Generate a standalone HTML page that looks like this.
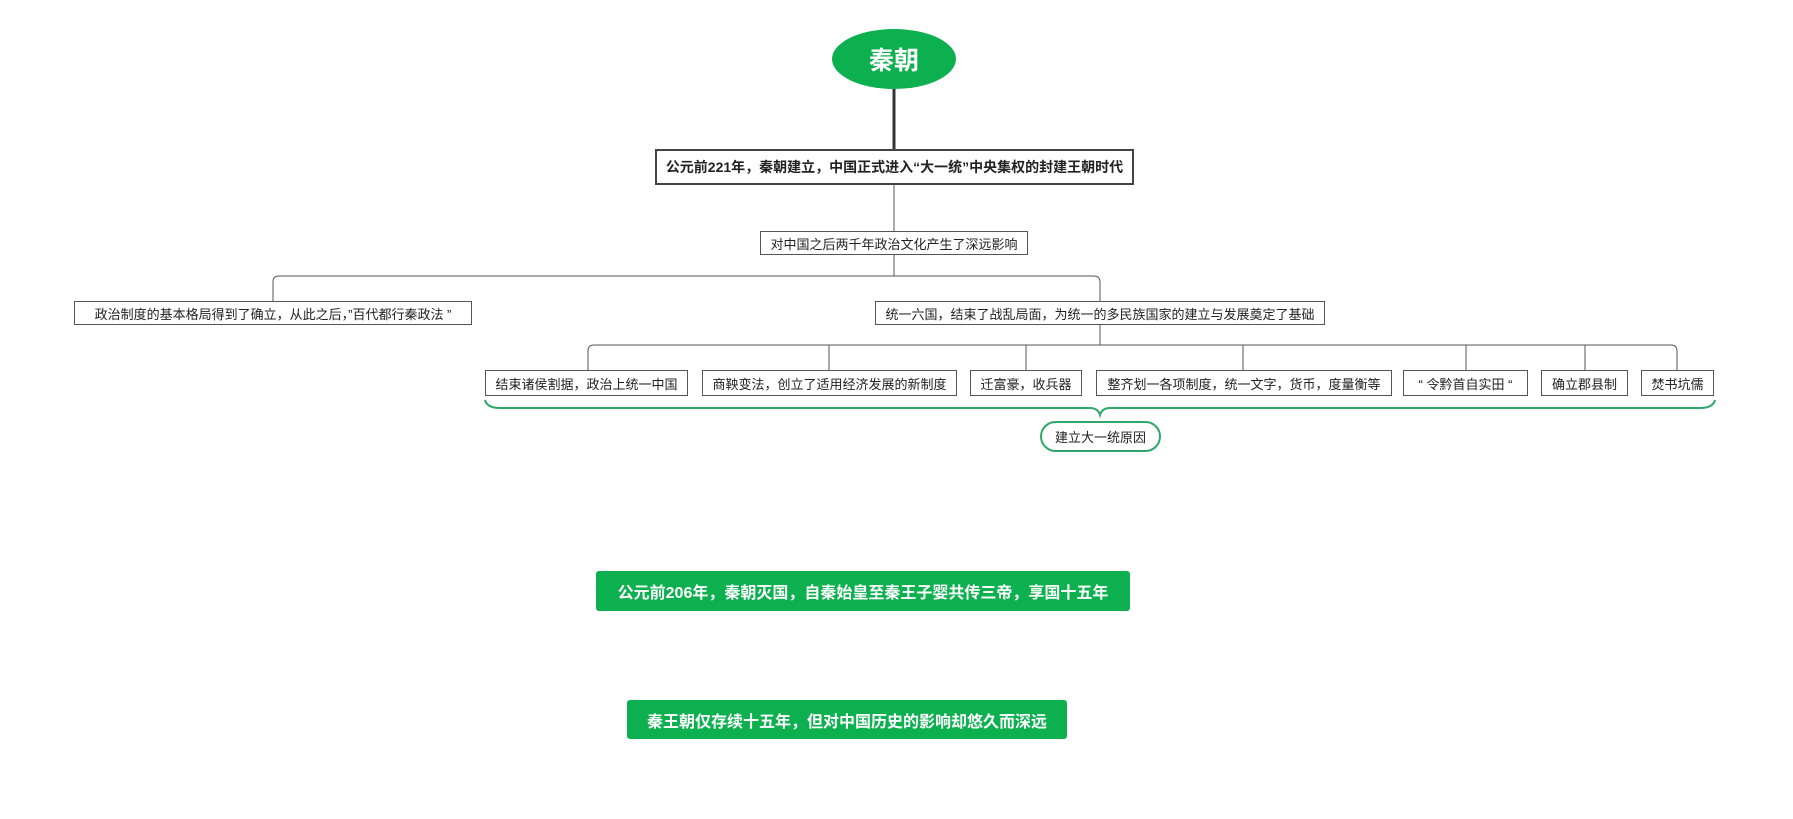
<!DOCTYPE html>
<html><head><meta charset="utf-8"><style>
html,body{margin:0;padding:0;background:#fff;}
body{width:1793px;height:819px;position:relative;overflow:hidden;font-family:"Liberation Sans","Noto Sans CJK SC",sans-serif;}
.b{position:absolute;box-sizing:border-box;border:1px solid #555;background:#fff;display:flex;align-items:center;justify-content:center;font-size:13px;color:#222;white-space:nowrap;}
.g{position:absolute;box-sizing:border-box;background:#0cb04f;color:#fff;font-weight:bold;font-size:16px;display:flex;align-items:center;justify-content:center;border-radius:3px;white-space:nowrap;}
svg{position:absolute;left:0;top:0;}
</style></head><body>
<svg width="1793" height="819">
<line x1="894" y1="89" x2="894" y2="149" stroke="#333" stroke-width="3"/>
<g fill="none" stroke="#555" stroke-width="1">
<line x1="894" y1="185" x2="894" y2="231"/>
<line x1="894" y1="255" x2="894" y2="276"/>
<path d="M273 301 V282 Q273 276 279 276 H1094 Q1100 276 1100 282 V301"/>
<line x1="1100" y1="325" x2="1100" y2="345"/>
<path d="M588 370 V351 Q588 345 594 345 H1671 Q1677 345 1677 351 V370"/>
<line x1="829" y1="345" x2="829" y2="370"/>
<line x1="1026" y1="345" x2="1026" y2="370"/>
<line x1="1243" y1="345" x2="1243" y2="370"/>
<line x1="1466" y1="345" x2="1466" y2="370"/>
<line x1="1585" y1="345" x2="1585" y2="370"/>
</g>
<path d="M485 400 Q487 408 500 408 H1090 Q1098 408 1100 415 Q1102 408 1110 408 H1700 Q1713 408 1715 400" fill="none" stroke="#2ea86a" stroke-width="2"/>
</svg>
<div style="position:absolute;left:832px;top:29px;width:124px;height:60px;border-radius:50%;background:#0cb04f;color:#fff;font-weight:bold;font-size:25px;display:flex;align-items:center;justify-content:center;">秦朝</div>
<div class="b" style="left:655px;top:149px;width:479px;height:36px;border:2px solid #444;font-weight:bold;font-size:14px;">公元前221年，秦朝建立，中国正式进入“大一统”中央集权的封建王朝时代</div>
<div class="b" style="left:760px;top:231px;width:268px;height:24px;">对中国之后两千年政治文化产生了深远影响</div>
<div class="b" style="left:74px;top:301px;width:398px;height:24px;">政治制度的基本格局得到了确立，从此之后，”百代都行秦政法 ”</div>
<div class="b" style="left:875px;top:301px;width:450px;height:24px;">统一六国，结束了战乱局面，为统一的多民族国家的建立与发展奠定了基础</div>
<div class="b" style="left:485px;top:370px;width:203px;height:26px;">结束诸侯割据，政治上统一中国</div>
<div class="b" style="left:702px;top:370px;width:255px;height:26px;">商鞅变法，创立了适用经济发展的新制度</div>
<div class="b" style="left:970px;top:370px;width:112px;height:26px;">迁富豪，收兵器</div>
<div class="b" style="left:1096px;top:370px;width:296px;height:26px;">整齐划一各项制度，统一文字，货币，度量衡等</div>
<div class="b" style="left:1403px;top:370px;width:125px;height:26px;">“ 令黔首自实田 “</div>
<div class="b" style="left:1541px;top:370px;width:87px;height:26px;">确立郡县制</div>
<div class="b" style="left:1641px;top:370px;width:73px;height:26px;">焚书坑儒</div>
<div class="b" style="left:1040px;top:421px;width:121px;height:31px;border:2px solid #2ea86a;border-radius:16px;">建立大一统原因</div>
<div class="g" style="left:596px;top:571px;width:534px;height:40px;">公元前206年，秦朝灭国，自秦始皇至秦王子婴共传三帝，享国十五年</div>
<div class="g" style="left:627px;top:700px;width:440px;height:39px;">秦王朝仅存续十五年，但对中国历史的影响却悠久而深远</div>
</body></html>
